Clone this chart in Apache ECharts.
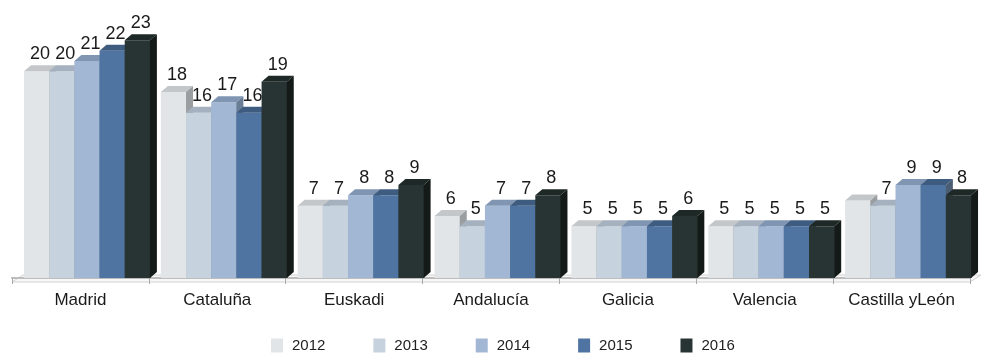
<!DOCTYPE html>
<html>
<head>
<meta charset="utf-8">
<script src="https://cdn.jsdelivr.net/npm/echarts@6/dist/echarts.min.js"></script>
<style>
  html, body { margin: 0; padding: 0; background: #ffffff; }
  #chart { width: 983px; height: 353px; }
</style>
</head>
<body>
<div id="chart"></div>
<script>
// Regions and yearly values
const categories = ['Madrid', 'Cataluña', 'Euskadi', 'Andalucía', 'Galicia', 'Valencia', 'Castilla yLeón'];
const years = ['2012', '2013', '2014', '2015', '2016'];
const v2012 = [20, 18, 7, 6, 5, 5, 7.5];
const v2013 = [20, 16, 7, 5, 5, 5, 7];
const v2014 = [21, 17, 8, 7, 5, 5, 9];
const v2015 = [22, 16, 8, 7, 5, 5, 9];
const v2016 = [23, 19, 9, 8, 6, 5, 8];
const seriesValues = [v2012, v2013, v2014, v2015, v2016];
// [series, category] pairs whose value label is not printed
const unlabeled = [[0, 6]];

// Face colours for each year: front, top, side
const faces = [
  { front: '#e1e5e8', top: '#c3c7ca', side: '#9a9ea1' },
  { front: '#c6d2dd', top: '#a5b1be', side: '#8a96a3' },
  { front: '#a2b7d4', top: '#7f95b2', side: '#6a7d97' },
  { front: '#4f74a1', top: '#3e5b80', side: '#4b5d72' },
  { front: '#283433', top: '#1e2826', side: '#141a17' }
];

const FONT = '"Liberation Sans", Arial, sans-serif';
const DEPTH_X = 7, DEPTH_Y = 6;
const GROUP_OFFSET = 0.0876; // gap before the first bar, share of a category
const BAR_SHARE = 0.184;     // width of one bar, share of a category

function barRenderer(si) {
  return function (params, api) {
    const ci = api.value(0);
    const val = api.value(1);
    const base = api.coord([ci, 0]);
    const topPt = api.coord([ci, val]);
    const catW = api.size([1, 0])[0];
    const bw = catW * BAR_SHARE;
    const x0 = base[0] - catW / 2 + catW * GROUP_OFFSET + si * bw;
    const x1 = x0 + bw;
    const yb = base[1];
    const yt = topPt[1];
    const f = faces[si];
    const children = [
      { type: 'rect', shape: { x: x0, y: yt, width: bw + 0.6, height: yb - yt }, style: { fill: f.front } },
      { type: 'polygon', shape: { points: [[x0, yt], [x1, yt], [x1 + DEPTH_X, yt - DEPTH_Y], [x0 + DEPTH_X, yt - DEPTH_Y]] }, style: { fill: f.top } },
      { type: 'polygon', shape: { points: [[x1, yt], [x1 + DEPTH_X, yt - DEPTH_Y], [x1 + DEPTH_X, yb - DEPTH_Y], [x1, yb]] }, style: { fill: f.side } }
    ];
    const hidden = unlabeled.some(p => p[0] === si && p[1] === ci);
    if (!hidden) {
      children.push({
        type: 'text',
        x: x0 + bw / 2 + DEPTH_X / 2,
        y: yt - 8,
        style: {
          text: String(val),
          fill: '#1a1a1a',
          fontFamily: FONT,
          fontSize: 18,
          align: 'center',
          verticalAlign: 'bottom'
        }
      });
    }
    return { type: 'group', children: children };
  };
}

// Floor plane under the bars
function floorRenderer(params, api) {
  const cs = params.coordSys;
  const yb = cs.y + cs.height;
  const xl = cs.x, xr = cs.x + cs.width;
  return {
    type: 'polygon',
    shape: { points: [[xl, yb + 4], [xr, yb + 4], [xr + 11, yb - 3], [xl + 11, yb - 3]] },
    style: { fill: '#f7f7f7', stroke: '#d2d2d2', lineWidth: 1 }
  };
}

const series = [{
  type: 'custom',
  name: 'floor',
  z: 0.5,
  silent: true,
  renderItem: floorRenderer,
  data: [[0, 0]]
}];
seriesValues.forEach((vals, si) => {
  series.push({
    type: 'custom',
    name: years[si],
    z: 2,
    itemStyle: { color: faces[si].front },
    renderItem: barRenderer(si),
    encode: { x: 0, y: 1 },
    data: vals.map((v, ci) => [ci, v])
  });
});

const chart = echarts.init(document.getElementById('chart'), null, { renderer: 'canvas' });
chart.setOption({
  animation: false,
  backgroundColor: '#ffffff',
  grid: { left: 12, right: 13, top: 30, bottom: 75 },
  legend: {
    data: years,
    left: 271,
    top: 338,
    padding: 0,
    icon: 'rect',
    itemWidth: 12,
    itemHeight: 14,
    itemGap: 48,
    textStyle: { fontFamily: FONT, fontSize: 15, color: '#222222', padding: [0, 0, 0, 4] }
  },
  xAxis: {
    type: 'category',
    data: categories,
    offset: 4,
    z: 1,
    axisLine: { lineStyle: { color: '#bdbdbd', width: 2 } },
    axisTick: { show: true, interval: 0, length: 6, lineStyle: { color: '#a8a8a8', width: 1 } },
    axisLabel: { interval: 0, fontFamily: FONT, fontSize: 17, color: '#1a1a1a', margin: 10 }
  },
  yAxis: { type: 'value', min: 0, max: 24, show: false, splitLine: { show: false } },
  series: series
});
</script>
</body>
</html>
